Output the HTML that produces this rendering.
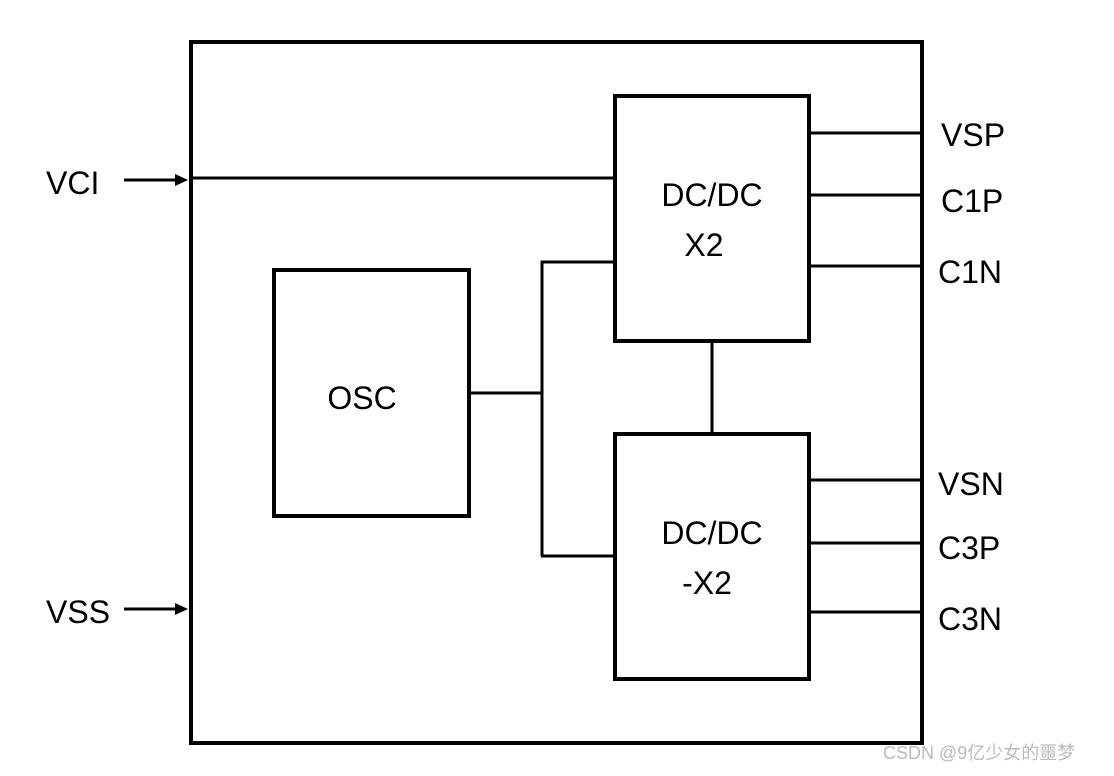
<!DOCTYPE html>
<html><head><style>html,body{margin:0;padding:0;background:#fff}</style></head>
<body>
<svg width="1114" height="771" viewBox="0 0 1114 771" xmlns="http://www.w3.org/2000/svg" font-family="'Liberation Sans', sans-serif" font-size="32" fill="#000">
<g stroke="#000" stroke-width="4" fill="none">
<rect x="191" y="42" width="731" height="701"/>
<rect x="615" y="96" width="194" height="245"/>
<rect x="615" y="434" width="194" height="245"/>
<rect x="274" y="270" width="195" height="246"/>
</g>
<g stroke="#000" stroke-width="3" fill="none">
<line x1="191" y1="178" x2="615" y2="178"/>
<line x1="809" y1="133" x2="922" y2="133"/>
<line x1="809" y1="195" x2="922" y2="195"/>
<line x1="809" y1="266" x2="922" y2="266"/>
<line x1="809" y1="480" x2="922" y2="480"/>
<line x1="809" y1="543" x2="922" y2="543"/>
<line x1="809" y1="612" x2="922" y2="612"/>
<line x1="469" y1="393" x2="542" y2="393"/>
<line x1="542" y1="261" x2="542" y2="556"/>
<line x1="541" y1="262" x2="615" y2="262"/>
<line x1="541" y1="556" x2="615" y2="556"/>
<line x1="712" y1="341" x2="712" y2="434"/>
<line x1="124" y1="180" x2="176" y2="180"/>
<line x1="124" y1="609" x2="176" y2="609"/>
</g>
<polygon points="175,174 188,180 175,186"/>
<polygon points="175,603 188,609 175,615"/>
<text x="46" y="194">VCI</text>
<text x="46" y="623">VSS</text>
<text x="941" y="146">VSP</text>
<text x="941" y="212">C1P</text>
<text x="938" y="283">C1N</text>
<text x="938" y="495">VSN</text>
<text x="938" y="559">C3P</text>
<text x="938" y="630">C3N</text>
<text x="712" y="206" text-anchor="middle">DC/DC</text>
<text x="704" y="256" text-anchor="middle">X2</text>
<text x="712" y="544" text-anchor="middle">DC/DC</text>
<text x="707" y="594" text-anchor="middle">-X2</text>
<text x="362" y="409" text-anchor="middle">OSC</text>
<text x="883" y="759" font-size="18" fill="#bbb" font-family="'Liberation Sans','Noto Sans CJK SC',sans-serif">CSDN @9亿少女的噩梦</text>
</svg>
</body></html>
